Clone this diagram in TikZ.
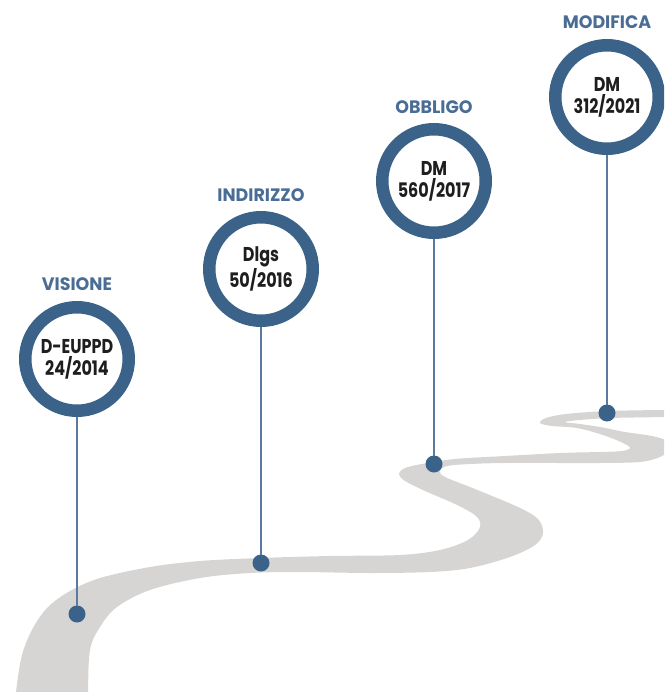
\documentclass[tikz,border=0pt]{standalone}
\usepackage{fontspec}
\newfontfamily\datefont{Poppins}[FakeStretch=0.8]
\newfontfamily\stagefont{Poppins}[FakeStretch=0.97]
\definecolor{ringblue}{HTML}{3B6389}
\definecolor{stemblue}{HTML}{5A7AA1}
\definecolor{labelblue}{HTML}{4A6D95}
\definecolor{roadgrey}{HTML}{D6D5D4}
\definecolor{ink}{HTML}{1E1E1E}

\begin{document}
\begin{tikzpicture}[x=1pt,y=-1pt,
  milestone/.style={circle, draw=ringblue, line width=12.5pt, fill=white,
    minimum size=103.5pt, inner sep=0pt, outer sep=6.25pt, align=center,
    text=ink, font=\datefont\bfseries\fontsize{20}{22}\selectfont},
  stage/.style={text=labelblue, inner sep=0pt,
    font=\stagefont\bfseries\fontsize{18}{20}\selectfont},
  marker/.style={circle, fill=ringblue, minimum size=17pt, inner sep=0pt, outer sep=0pt},
  stem/.style={draw=stemblue, line width=2.2pt}]

\useasboundingbox (0,0) rectangle (664,692);
\clip (0,0) rectangle (664,692);

% winding road, outline traced along both edges
\fill[roadgrey] plot[smooth cycle, tension=0.55] coordinates {
  (14,720) (16,692) (22,655) (33,628) (48,607) (70,591) (100,578) (150,567)
  (200,561) (260,558) (330,556) (400,555) (440,550) (468,540) (480,527)
  (476,516) (455,504) (425,491) (405,481) (399,474) (405,468) (422,464)
  (455,459) (505,456) (560,453) (600,452) (622,451) (630,448) (623,443)
  (603,435) (577,428) (552,426) (540,423) (546,418) (566,414) (608,411)
  (664,410) (690,410)
  (690,416) (664,417) (610,418) (580,420) (565,422) (580,424) (600,427)
  (625,432) (652,436) (667,441) (670,449) (660,457) (640,462) (600,463)
  (560,463) (505,463) (470,464) (447,466) (440,471) (445,477) (475,489)
  (518,507) (538,519) (543,533) (535,545) (510,557) (470,568) (430,572)
  (370,573) (300,572) (250,573) (200,578) (150,590) (117,607) (100,627)
  (90,650) (88,692) (88,720)
};

% milestones
\node[milestone] (c1) at (77,359) {D-EUPPD\\24/2014};
\node[milestone] (c2) at (261,269) {Dlgs\\50/2016};
\node[milestone] (c3) at (434,181) {DM\\560/2017};
\node[milestone] (c4) at (607,97) {DM\\312/2021};

% stage titles
\node[stage] (l1) at (77,284) {VISIONE};
\node[stage] (l2) at (261,195) {INDIRIZZO};
\node[stage] (l3) at (434,107) {OBBLIGO};
\node[stage] (l4) at (607,22) {MODIFICA};

% markers on the road
\node[marker] (d1) at (77,614) {};
\node[marker] (d2) at (261,563) {};
\node[marker] (d3) at (434,464) {};
\node[marker] (d4) at (607,413) {};

% stems
\draw[stem] (c1) -- (d1);
\draw[stem] (c2) -- (d2);
\draw[stem] (c3) -- (d3);
\draw[stem] (c4) -- (d4);
\end{tikzpicture}
\end{document}
